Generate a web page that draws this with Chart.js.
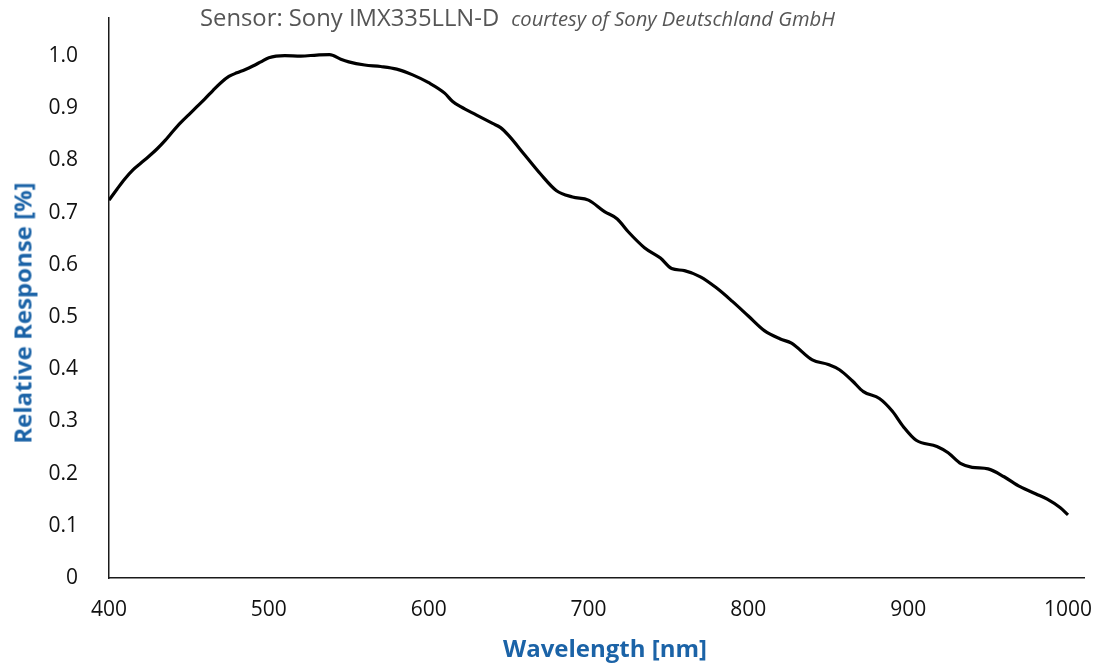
<!DOCTYPE html>
<html>
<head>
<meta charset="utf-8">
<script src="https://cdn.jsdelivr.net/npm/chart.js@4.4.1/dist/chart.umd.min.js"></script>
<style>
  html, body { margin: 0; padding: 0; background: #ffffff; }
  #wrap { position: relative; width: 1101px; height: 668px; overflow: hidden; font-family: "Open Sans", "Noto Sans", sans-serif; }
  #c { position: absolute; left: 0; top: 0; }
  .title { position: absolute; left: 200px; top: 1px; white-space: nowrap; color: #555555; font-size: 23.8px; }
  .title .sub { font-style: italic; font-size: 20.2px; margin-left: 12px; }
  .axt { position: absolute; white-space: nowrap; color: #1b63a7; font-weight: bold; font-size: 24px; transform: translate(-50%, -50%); }
  #ytitle { left: 22px; top: 313px; transform: translate(-50%, -50%) rotate(-90deg); }
  #xtitle { left: 605px; top: 647px; }
</style>
</head>
<body>
<div id="wrap">
  <canvas id="c" width="1101" height="668"></canvas>
  <div class="title">Sensor: Sony IMX335LLN-D<span class="sub">courtesy of Sony Deutschland GmbH</span></div>
  <div class="axt" id="ytitle">Relative Response [%]</div>
  <div class="axt" id="xtitle">Wavelength [nm]</div>
</div>
<script>
// Wavelength (nm)
const wavelengths = [
  400, 405, 410, 415, 420, 425, 430, 435, 440, 445,
  450, 455, 460, 465, 470, 475, 480, 485, 490, 495,
  500, 510, 520, 530, 538, 545, 550, 560, 570, 580,
  590, 600, 610, 615, 620, 630, 640, 645, 650, 660,
  670, 680, 690, 700, 710, 718, 725, 735, 745, 752,
  760, 770, 780, 790, 800, 810, 820, 827, 840, 850,
  857, 865, 872, 882, 890, 897, 905, 918, 925, 933,
  940, 950, 960, 970, 980, 987, 995, 1000
];
// Relative response
const response = [
  0.724, 0.745, 0.765, 0.782, 0.795, 0.808, 0.822, 0.838, 0.856, 0.873,
  0.888, 0.903, 0.918, 0.934, 0.949, 0.961, 0.968, 0.974, 0.981, 0.989,
  0.997, 1.001, 1.000, 1.002, 1.003, 0.994, 0.989, 0.983, 0.980, 0.975,
  0.964, 0.949, 0.929, 0.913, 0.903, 0.887, 0.871, 0.863, 0.848, 0.811,
  0.774, 0.742, 0.730, 0.724, 0.702, 0.688, 0.663, 0.633, 0.613, 0.593,
  0.589, 0.577, 0.556, 0.530, 0.502, 0.474, 0.458, 0.450, 0.418, 0.409,
  0.399, 0.378, 0.357, 0.344, 0.320, 0.290, 0.264, 0.252, 0.240, 0.219,
  0.212, 0.209, 0.194, 0.175, 0.161, 0.151, 0.135, 0.121
];
const xTicks = [400, 500, 600, 700, 800, 900, 1000];
const yTicks = [0, 0.1, 0.2, 0.3, 0.4, 0.5, 0.6, 0.7, 0.8, 0.9, 1.0];

const points = wavelengths.map((w, i) => ({ x: w, y: response[i] }));
const tickFont = { family: '"Open Sans", "Noto Sans", sans-serif', size: 21 };

new Chart(document.getElementById('c'), {
  type: 'line',
  data: {
    datasets: [{
      data: points,
      borderColor: '#000000',
      borderWidth: 3.2,
      pointRadius: 0,
      fill: false,
      cubicInterpolationMode: 'monotone'
    }]
  },
  options: {
    responsive: false,
    animation: false,
    devicePixelRatio: 1,
    layout: { padding: { left: 0, top: 18, right: 17, bottom: 0 } },
    plugins: { legend: { display: false }, tooltip: { enabled: false }, title: { display: false } },
    scales: {
      x: {
        type: 'linear',
        min: 400,
        max: 1010,
        afterBuildTicks: s => { s.ticks = xTicks.map(v => ({ value: v })); },
        afterFit: s => { s.height = 90; s.paddingLeft = 0; s.paddingRight = 0; },
        grid: { display: false, drawTicks: false },
        border: { display: true, color: '#1a1a1a', width: 1.5 },
        ticks: { font: tickFont, color: '#111111', padding: 19, maxRotation: 0, autoSkip: false,
          callback: v => String(v) }
      },
      y: {
        type: 'linear',
        min: 0,
        max: 1.073,
        afterBuildTicks: s => { s.ticks = yTicks.map(v => ({ value: v })); },
        afterFit: s => { s.width = 109; s.paddingTop = 0; s.paddingBottom = 0; },
        grid: { display: false, drawTicks: false },
        border: { display: true, color: '#1a1a1a', width: 1.5 },
        ticks: {
          font: tickFont, color: '#111111', padding: 31,
          callback: v => (v === 0 ? '0' : Number(v).toFixed(1))
        }
      }
    }
  }
});
</script>
</body>
</html>
